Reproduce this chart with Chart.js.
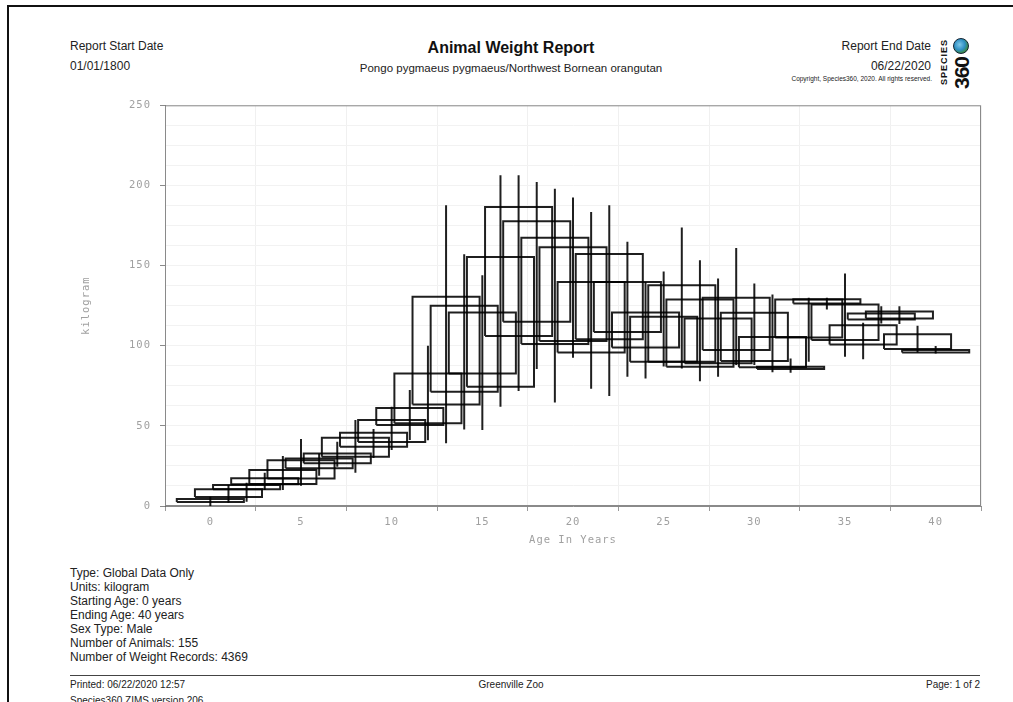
<!DOCTYPE html>
<html>
<head>
<meta charset="utf-8">
<script src="https://cdn.jsdelivr.net/npm/chart.js@4.4.1/dist/chart.umd.min.js"></script>
<style>
  html, body { margin: 0; padding: 0; background: #fff; }
  body { width: 1013px; height: 702px; position: relative; overflow: hidden; font-family: "Liberation Sans", Arial, sans-serif; color: #222; }
  .t { position: absolute; white-space: nowrap; line-height: 14px; }
  .c { transform: translateX(-50%); }
  .rot { position: absolute; white-space: nowrap; transform: translate(-50%, -50%) rotate(-90deg); font-weight: bold; color: #111; line-height: 1; }
  #pageTop { position: absolute; left: 7px; top: 5px; width: 1006px; height: 2px; background: #111; }
  #pageLeft { position: absolute; left: 7px; top: 5px; width: 2px; height: 697px; background: #111; }
  #chartBox { position: absolute; left: 80px; top: 90px; width: 920px; height: 465px; }
  #footLine { position: absolute; left: 70px; top: 675px; width: 910px; height: 1px; background: #444; }
  #globe { position: absolute; left: 953px; top: 38px; width: 14px; height: 14px; border-radius: 50%;
           background: radial-gradient(circle at 40% 40%, #7ec8e8 0%, #2f8fc4 45%, #3b8a3a 75%, #1d3d1d 100%); border: 1px solid #123; }
</style>
</head>
<body>
<div id="pageTop"></div>
<div id="pageLeft"></div>

<div class="t" style="left:70px; top:39px; font-size:12px;">Report Start Date</div>
<div class="t" style="left:70px; top:59px; font-size:12px;">01/01/1800</div>
<div class="t c" style="left:511px; top:40px; font-size:16px; font-weight:bold; line-height:16px; color:#111;">Animal Weight Report</div>
<div class="t c" style="left:511px; top:61px; font-size:11.5px;">Pongo pygmaeus pygmaeus/Northwest Bornean orangutan</div>
<div class="t" style="right:82px; top:39px; font-size:12px;">Report End Date</div>
<div class="t" style="right:82px; top:59px; font-size:12px;">06/22/2020</div>
<div class="t" style="right:81px; top:72px; font-size:6.5px;">Copyright, Species360, 2020. All rights reserved.</div>

<div class="rot" style="left:944px; top:62px; font-size:9px; letter-spacing:1px;">SPECIES</div>
<div class="rot" style="left:961px; top:73px; font-size:21px; letter-spacing:-1px;">360</div>
<div id="globe"></div>

<div id="chartBox"><canvas id="weightChart"></canvas></div>

<div class="t" style="left:70px; top:566px; font-size:12px;">Type: Global Data Only</div>
<div class="t" style="left:70px; top:580px; font-size:12px;">Units: kilogram</div>
<div class="t" style="left:70px; top:594px; font-size:12px;">Starting Age: 0 years</div>
<div class="t" style="left:70px; top:608px; font-size:12px;">Ending Age: 40 years</div>
<div class="t" style="left:70px; top:622px; font-size:12px;">Sex Type: Male</div>
<div class="t" style="left:70px; top:636px; font-size:12px;">Number of Animals: 155</div>
<div class="t" style="left:70px; top:650px; font-size:12px;">Number of Weight Records: 4369</div>

<div id="footLine"></div>
<div class="t" style="left:70px; top:678px; font-size:10px;">Printed: 06/22/2020 12:57</div>
<div class="t" style="left:70px; top:694px; font-size:10px;">Species360 ZIMS version 206</div>
<div class="t c" style="left:511px; top:678px; font-size:10px;">Greenville Zoo</div>
<div class="t" style="right:33px; top:678px; font-size:10px;">Page: 1 of 2</div>

<script>
// Age in years (box centre)
const ages = [0, 1, 2, 3, 4, 5, 6, 7, 8, 9, 10, 11, 12, 13, 14, 15, 16, 17, 18, 19, 20,
              21, 22, 23, 24, 25, 26, 27, 28, 29, 30, 31, 32, 33, 34, 35, 36, 37, 38, 39, 40];

// Box bottom / top (kg)
const boxLow = [2.5, 5.6, 10.4, 13.5, 13.7, 17.2, 23.5, 26.6, 30.8, 37, 40, 50.5, 51.6, 63.4, 71.3, 82.7, 74.4,
                106, 114.9, 101, 102.9, 95.8, 104.1, 108.5, 98.9, 90, 90, 86.9, 89, 97.3, 90.4, 86.5, 85.4,
                105.1, 126.4, 103.5, 100.8, 116.4, 117, 97.9, 95.8];
const boxHigh = [4.4, 10.4, 13.1, 17.3, 22.4, 28.5, 29.7, 32.8, 42.6, 45.7, 53.6, 61.2, 82.7, 130.5, 124.9, 120.7, 155.4,
                 186.6, 177.7, 167.3, 161.5, 139.8, 157.3, 139.8, 120.7, 118, 137.8, 128.8, 117, 129.9, 120.5, 105.5, 86.9,
                 128.8, 129, 125.7, 112.8, 120.1, 121.4, 107.2, 97.3];

// Whisker min / max (kg)
const whiskLow = [0, 2.1, 2.7, 10, 10, 12.7, 18.9, 24.5, 20.8, 30, 35, 41.1, 41, 39.1, 47.8, 47.4, 61.9,
                  71.7, 85.4, 64.6, 92.5, 73.2, 68.6, 80.6, 79.6, 87, 85.8, 77.9, 80.6, 87.9, 87.9, 83.4, 83.1,
                  90, 122.6, 93.1, 91.6, 113.9, 113.5, 95.8, 95.2];
const whiskHigh = [5.8, 13.1, 14.5, 20.8, 31.2, 41.8, 32.8, 40.1, 53.6, 48, 62, 72.3, 100, 187.7, 157, 144, 206.4,
                   206.4, 202.2, 198, 192.4, 183.5, 187.7, 164.8, 139.8, 146.3, 173.8, 153.4, 142, 161, 138.8, 132, 92,
                   129.9, 129.9, 145, 114.3, 124.7, 124.7, 112.4, 99.8];

// Axis ticks
const xTicks = [-2.5, 0, 2.5, 5, 7.5, 10, 12.5, 15, 17.5, 20, 22.5, 25, 27.5, 30, 32.5, 35, 37.5, 40, 42.5];
const yTicks = [0, 12.5, 25, 37.5, 50, 62.5, 75, 87.5, 100, 112.5, 125, 137.5, 150, 162.5, 175, 187.5,
                200, 212.5, 225, 237.5, 250];

const BOX_HALF = 1.85;
const lineStyle = {
    showLine: true, fill: false, tension: 0,
    borderColor: 'rgba(0,0,0,0.88)', borderWidth: 2,
    borderJoinStyle: 'miter', borderCapStyle: 'butt',
    pointRadius: 0, pointHoverRadius: 0
};

function buildDatasets() {
    const sets = [];
    ages.forEach((a, i) => {
        sets.push({
            ...lineStyle,
            data: [
                { x: a - BOX_HALF, y: boxLow[i] },
                { x: a + BOX_HALF, y: boxLow[i] },
                { x: a + BOX_HALF, y: boxHigh[i] },
                { x: a - BOX_HALF, y: boxHigh[i] },
                { x: a - BOX_HALF, y: boxLow[i] }
            ]
        });
        sets.push({
            ...lineStyle,
            data: [{ x: a, y: whiskLow[i] }, { x: a, y: whiskHigh[i] }]
        });
    });
    return sets;
}

// frame round the plot area, and spaced-out axis lettering
const plotFrame = {
    id: 'plotFrame',
    beforeDraw(chart) {
        chart.ctx.letterSpacing = '1px';
    },
    beforeDatasetsDraw(chart) {
        const { ctx, chartArea: a } = chart;
        ctx.save();
        ctx.strokeStyle = '#8a8a8a';
        ctx.lineWidth = 1;
        ctx.strokeRect(a.left + 0.5, a.top + 0.5, a.width - 1, a.height - 1);
        ctx.restore();
    }
};

const axisFont = { family: '"DejaVu Sans Mono", monospace', size: 10.5 };

new Chart(document.getElementById('weightChart').getContext('2d'), {
    type: 'scatter',
    data: { datasets: buildDatasets() },
    plugins: [plotFrame],
    options: {
        responsive: true,
        maintainAspectRatio: false,
        animation: false,
        layout: { padding: { top: 5, right: 19, bottom: 0, left: 0 } },
        plugins: { legend: { display: false }, tooltip: { enabled: false } },
        scales: {
            x: {
                type: 'linear', min: -2.5, max: 42.5,
                afterBuildTicks: axis => { axis.ticks = xTicks.map(v => ({ value: v })); },
                afterFit: s => { s.height = 49; },
                ticks: {
                    autoSkip: false, maxRotation: 0, padding: 5, color: '#a0a0a0', font: axisFont,
                    callback: v => (v % 5 === 0 ? String(v) : '')
                },
                grid: {
                    color: c => (c.tick && c.tick.value % 5 !== 0 ? '#f0f0f0' : 'rgba(0,0,0,0)'),
                    tickColor: c => (c.tick && c.tick.value % 5 !== 0 ? '#9a9a9a' : 'rgba(0,0,0,0)'),
                    tickLength: 5
                },
                border: { color: '#8a8a8a', width: 1 },
                title: {
                    display: true, text: 'Age In Years', color: '#a0a0a0',
                    font: axisFont,
                    padding: { top: 0, bottom: 8 }
                }
            },
            y: {
                type: 'linear', min: 0, max: 250,
                afterBuildTicks: axis => { axis.ticks = yTicks.map(v => ({ value: v })); },
                afterFit: s => { s.width = 85; },
                ticks: {
                    autoSkip: false, padding: 9, color: '#a0a0a0', font: axisFont,
                    callback: v => (v % 50 === 0 ? String(v) : '')
                },
                grid: {
                    color: '#f2f2f2',
                    tickColor: c => (c.tick && c.tick.value % 50 === 0 ? '#8a8a8a' : 'rgba(0,0,0,0)'),
                    tickLength: 5
                },
                border: { color: '#666', width: 1 },
                title: {
                    display: true, text: 'kilogram', color: '#a0a0a0',
                    font: axisFont,
                    padding: { top: 0, bottom: 0 }
                }
            }
        }
    }
});
</script>
</body>
</html>
